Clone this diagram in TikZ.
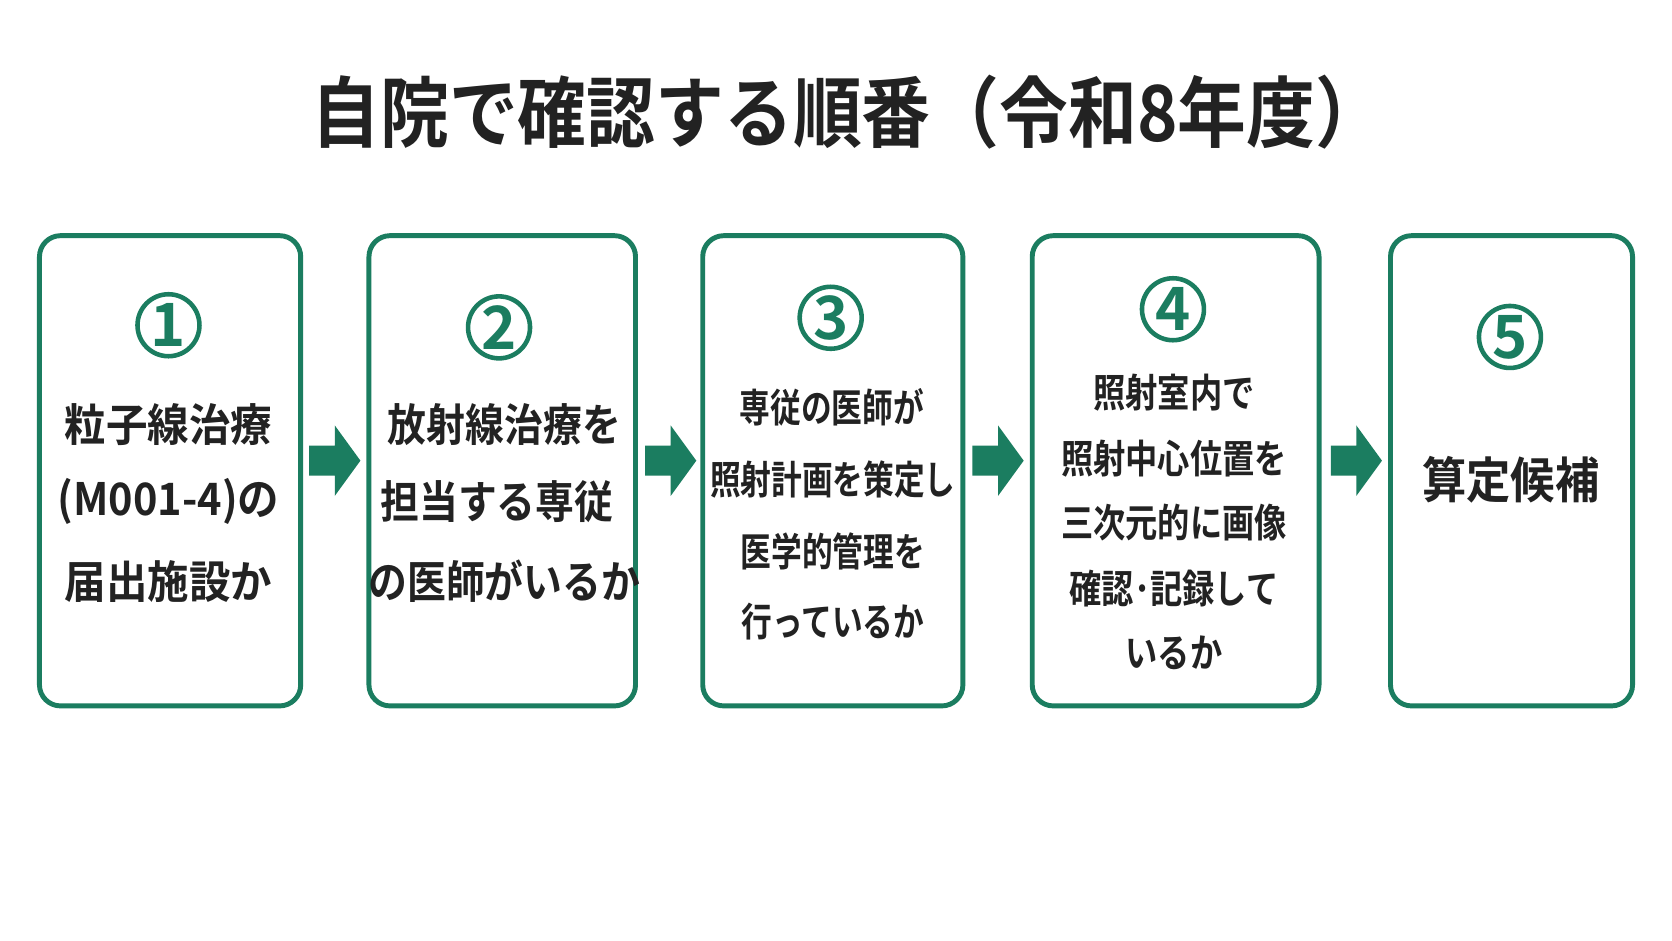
\documentclass[tikz,border=0pt]{standalone}
\usepackage{fontspec}
\usepackage{graphicx}
\setmainfont{Noto Sans CJK JP}[BoldFont={Noto Sans CJK JP Bold}]
\definecolor{grn}{HTML}{1B7D60}
\definecolor{ink}{HTML}{222222}
\newcommand{\lineT}[3]{\scalebox{#2}[1]{\fontsize{#1}{#1}\selectfont #3}}
\begin{document}
\begin{tikzpicture}[x=0.010663cm,y=-0.010663cm,
  box/.style={draw=grn,line width=1.4pt,rounded corners=6pt,fill=white},
  num/.style={circle,draw=grn,line width=1.3pt,text=grn,font=\bfseries\fontsize{17}{17}\selectfont,minimum size=0.62cm,inner sep=0pt},
  txt/.style={text=ink,font=\bfseries,align=center,inner sep=0pt},
  arr/.style={fill=grn}]
\useasboundingbox (0,0) rectangle (1568,882);
\fill[white] (0,0) rectangle (1568,882);
\node[txt] (title) at (795,105) {\lineT{22}{0.89}{自院で確認する順番（令和8年度）}};
% boxes
\node[box,minimum width=245*0.010663cm,minimum height=441*0.010663cm] (b1) at (159.5,441.5) {};
\node[box,minimum width=250*0.010663cm,minimum height=441*0.010663cm] (b2) at (471,441.5) {};
\node[box,minimum width=244*0.010663cm,minimum height=441*0.010663cm] (b3) at (781,441.5) {};
\node[box,minimum width=269*0.010663cm,minimum height=441*0.010663cm] (b4) at (1102.5,441.5) {};
\node[box,minimum width=227*0.010663cm,minimum height=441*0.010663cm] (b5) at (1417.5,441.5) {};
% numbers
\node[num] (n1) at (158,305) {1};
\node[num] (n2) at (468,307) {2};
\node[num] (n3) at (779,298) {3};
\node[num] (n4) at (1100,290) {4};
\node[num] (n5) at (1416,316) {5};
% texts
\node[txt] (t1a) at (158,398) {\lineT{12.7}{0.93}{粒子線治療}};
\node[txt] (t1b) at (158,470) {\lineT{12.7}{0.93}{(M001-4)の}};
\node[txt] (t1c) at (158,545) {\lineT{12.7}{0.93}{届出施設か}};
\node[txt] (t2a) at (473,398) {\lineT{12.7}{0.87}{放射線治療を}};
\node[txt] (t2b) at (466,470) {\lineT{12.7}{0.87}{担当する専従}};
\node[txt] (t2c) at (473,545) {\lineT{12.7}{0.87}{の医師がいるか}};
\node[txt] (t3a) at (780,382) {\lineT{11.2}{0.78}{専従の医師が}};
\node[txt] (t3b) at (781,450) {\lineT{11.2}{0.78}{照射計画を策定し}};
\node[txt] (t3c) at (781,517) {\lineT{11.2}{0.78}{医学的管理を}};
\node[txt] (t3d) at (781,583) {\lineT{11.2}{0.78}{行っているか}};
\node[txt] (t4a) at (1101,368) {\lineT{11.2}{0.82}{照射室内で}};
\node[txt] (t4b) at (1101,430) {\lineT{11.2}{0.82}{照射中心位置を}};
\node[txt] (t4c) at (1101,490) {\lineT{11.2}{0.82}{三次元的に画像}};
\node[txt] (t4d) at (1101,552) {\lineT{11.2}{0.82}{確認･記録して}};
\node[txt] (t4e) at (1101,612) {\lineT{11.2}{0.82}{いるか}};
\node[txt] (t5) at (1417,450) {\lineT{14}{0.9}{算定候補}};
% arrows
\foreach \x in {290,605,912,1248}{
  \fill[arr] (\x,418) -- (\x+24,418) -- (\x+24,399) -- (\x+48,432) -- (\x+24,465) -- (\x+24,446) -- (\x,446) -- cycle;
}
\end{tikzpicture}
\end{document}
